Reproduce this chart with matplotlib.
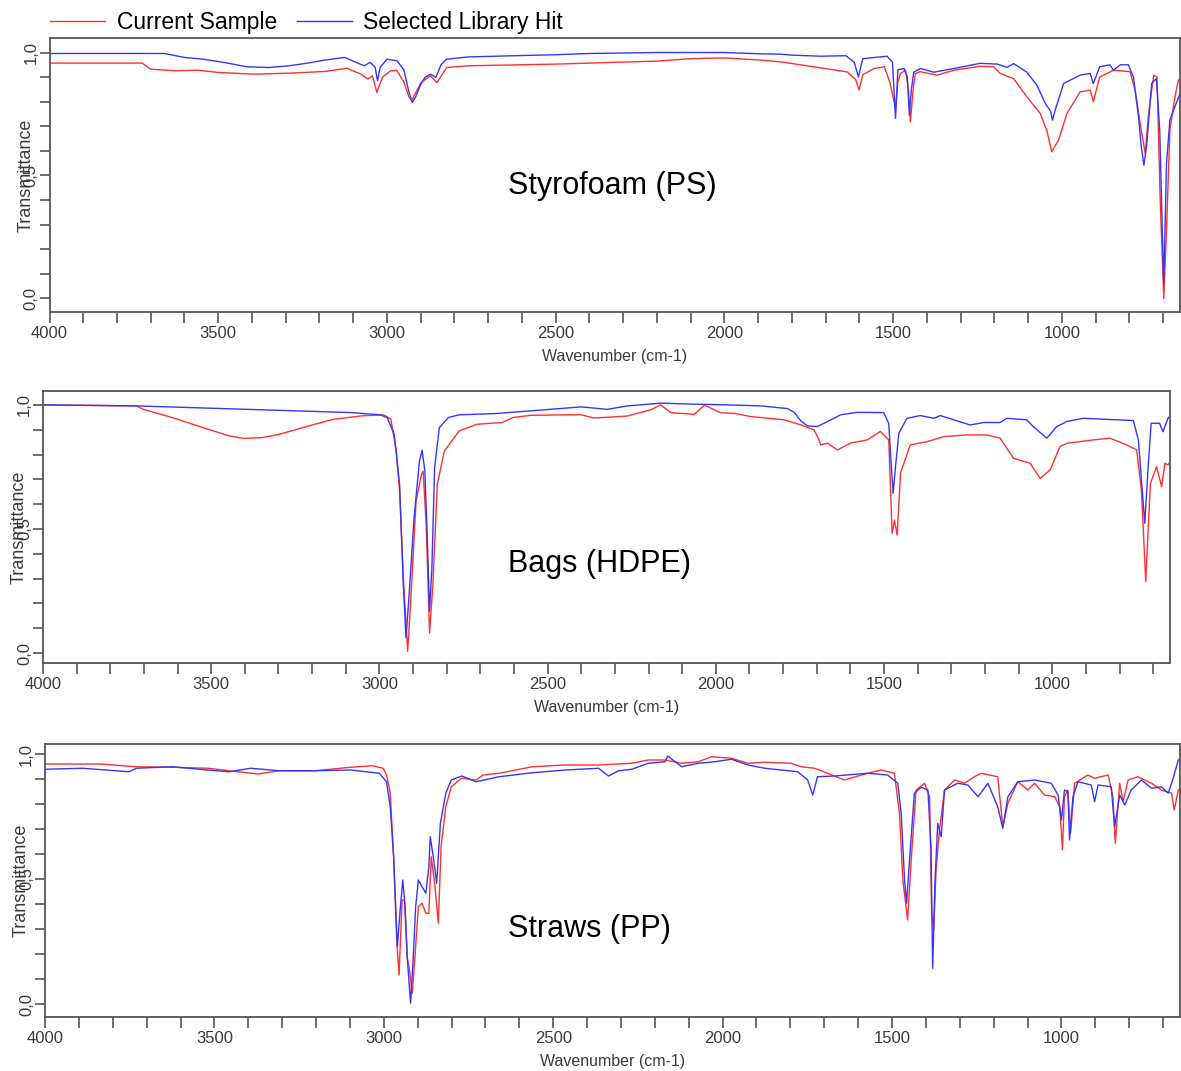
import numpy as np
import matplotlib
matplotlib.use("Agg")
import matplotlib.pyplot as plt

plt.rcParams['font.family'] = ['Liberation Sans', 'DejaVu Sans']

# FTIR spectra: (wavenumber, transmittance)
# Styrofoam (PS)
ps_lib_x = [4000, 3660, 3600, 3545, 3480, 3415, 3350, 3290, 3235, 3185, 3125, 3090, 3067, 3050, 3035,
            3028, 3020, 3000, 2970, 2950, 2935, 2925, 2915, 2900, 2887, 2871, 2855, 2840, 2823, 2760,
            2650, 2500, 2400, 2200, 2000, 1900, 1833, 1794, 1715, 1640, 1615, 1603, 1590, 1518, 1502,
            1493, 1486, 1468, 1458, 1452, 1446, 1439, 1419, 1380, 1320, 1242, 1192, 1162, 1143, 1104,
            1074, 1049, 1033, 1028, 1020, 995, 946, 916, 907, 888, 858, 847, 827, 803, 788,
            773, 765, 757, 749, 734, 720, 710, 702, 698, 690, 680, 665, 650]
ps_lib_y = [0.996, 0.996, 0.98, 0.973, 0.959, 0.942, 0.939, 0.946, 0.957, 0.969, 0.98, 0.959, 0.946, 0.96, 0.94,
            0.885, 0.94, 0.973, 0.966, 0.93, 0.84, 0.797, 0.82, 0.87, 0.899, 0.912, 0.899, 0.95, 0.973, 0.982,
            0.986, 0.991, 0.996, 1.0, 1.0, 0.995, 0.993, 0.989, 0.985, 0.987, 0.96, 0.90, 0.975, 0.985, 0.96,
            0.732, 0.93, 0.935, 0.90, 0.745, 0.85, 0.92, 0.935, 0.92, 0.935, 0.956, 0.953, 0.94, 0.955, 0.92,
            0.867, 0.793, 0.76, 0.725, 0.765, 0.874, 0.908, 0.915, 0.874, 0.942, 0.95, 0.928, 0.95, 0.95, 0.90,
            0.74, 0.62, 0.542, 0.62, 0.874, 0.894, 0.685, 0.25, 0.061, 0.55, 0.725, 0.78, 0.833]
ps_smp_x = [4000, 3725, 3700, 3628, 3560, 3500, 3395, 3290, 3183, 3119, 3077, 3056, 3043, 3030, 3013,
            2990, 2971, 2950, 2935, 2927, 2899, 2871, 2852, 2823, 2760, 2650, 2495, 2400, 2200, 2100,
            2000, 1900, 1833, 1735, 1636, 1611, 1601, 1590, 1556, 1526, 1510, 1493, 1486, 1478, 1463,
            1455, 1449, 1440, 1434, 1419, 1370, 1320, 1242, 1202, 1183, 1143, 1104, 1064, 1044, 1030,
            1010, 985, 946, 916, 907, 888, 847, 798, 783, 768, 753, 743, 728, 718, 709,
            698, 690, 680, 665, 655, 650]
ps_smp_y = [0.957, 0.957, 0.932, 0.926, 0.928, 0.919, 0.912, 0.916, 0.923, 0.936, 0.912, 0.892, 0.905, 0.838, 0.90,
            0.925, 0.928, 0.88, 0.82, 0.804, 0.878, 0.905, 0.878, 0.939, 0.946, 0.949, 0.953, 0.957, 0.965, 0.975,
            0.978, 0.97, 0.962, 0.942, 0.921, 0.89, 0.847, 0.91, 0.935, 0.942, 0.88, 0.772, 0.88, 0.915, 0.928,
            0.85, 0.718, 0.86, 0.915, 0.922, 0.908, 0.928, 0.944, 0.942, 0.915, 0.894, 0.82, 0.752, 0.68, 0.596,
            0.644, 0.752, 0.84, 0.847, 0.80, 0.90, 0.928, 0.922, 0.847, 0.711, 0.589, 0.752, 0.908, 0.90, 0.413,
            0.0, 0.277, 0.684, 0.82, 0.888, 0.89]

# Bags (HDPE)
pe_lib_x = [4000, 3723, 3510, 3296, 3083, 2998, 2977, 2956, 2940, 2929, 2921, 2913, 2897, 2881, 2873,
            2865, 2858, 2851, 2844, 2836, 2822, 2795, 2763, 2657, 2550, 2400, 2323, 2263, 2164, 2064,
            1965, 1866, 1787, 1767, 1747, 1727, 1698, 1668, 1629, 1580, 1501, 1486, 1479, 1473, 1466,
            1456, 1432, 1392, 1352, 1333, 1293, 1244, 1204, 1155, 1135, 1076, 1056, 1016, 987, 957,
            908, 809, 759, 744, 735, 725, 715, 706, 681, 671, 656, 650]
pe_lib_y = [1.0, 0.996, 0.987, 0.978, 0.969, 0.960, 0.949, 0.882, 0.680, 0.276, 0.061, 0.209, 0.545, 0.774, 0.817,
            0.734, 0.478, 0.168, 0.343, 0.747, 0.908, 0.949, 0.960, 0.965, 0.976, 0.992, 0.982, 0.996, 1.007, 1.003,
            1.0, 0.996, 0.985, 0.97, 0.935, 0.915, 0.913, 0.933, 0.96, 0.970, 0.969, 0.925, 0.765, 0.644, 0.75,
            0.886, 0.946, 0.957, 0.946, 0.957, 0.94, 0.919, 0.929, 0.929, 0.946, 0.94, 0.912, 0.866, 0.912, 0.933,
            0.946, 0.94, 0.937, 0.859, 0.70, 0.523, 0.75, 0.926, 0.926, 0.892, 0.946, 0.955]
pe_smp_x = [4000, 3723, 3701, 3616, 3510, 3446, 3403, 3350, 3296, 3211, 3137, 3051, 2987, 2966, 2950,
            2940, 2929, 2916, 2907, 2891, 2875, 2870, 2861, 2851, 2841, 2828, 2807, 2763, 2710, 2635,
            2603, 2550, 2444, 2400, 2362, 2263, 2194, 2164, 2134, 2064, 2034, 1985, 1946, 1896, 1866,
            1797, 1748, 1708, 1697, 1688, 1668, 1639, 1600, 1550, 1511, 1486, 1476, 1469, 1461, 1451,
            1422, 1372, 1323, 1254, 1194, 1155, 1115, 1066, 1036, 1006, 977, 957, 878, 829, 779,
            749, 735, 722, 715, 708, 690, 675, 665, 656, 650]
pe_smp_y = [1.0, 0.996, 0.982, 0.949, 0.902, 0.875, 0.865, 0.868, 0.882, 0.915, 0.942, 0.956, 0.960, 0.942, 0.814,
            0.653, 0.303, 0.007, 0.209, 0.612, 0.72, 0.733, 0.518, 0.081, 0.276, 0.680, 0.814, 0.895, 0.922, 0.929,
            0.949, 0.958, 0.960, 0.96, 0.947, 0.955, 0.98, 1.0, 0.969, 0.962, 0.999, 0.968, 0.966, 0.953, 0.949,
            0.94, 0.92, 0.899, 0.87, 0.839, 0.846, 0.818, 0.846, 0.859, 0.893, 0.859, 0.4825, 0.536, 0.475, 0.725,
            0.839, 0.852, 0.872, 0.879, 0.879, 0.866, 0.785, 0.765, 0.704, 0.738, 0.832, 0.845, 0.859, 0.866, 0.839,
            0.819, 0.657, 0.288, 0.497, 0.684, 0.751, 0.671, 0.765, 0.758, 0.77]

# Straws (PP)
pp_lib_x = [4000, 3889, 3752, 3730, 3625, 3520, 3456, 3393, 3308, 3203, 3097, 3013, 2992, 2981, 2971,
            2960, 2951, 2944, 2937, 2931, 2921, 2913, 2906, 2898, 2887, 2876, 2867, 2863, 2854, 2844,
            2833, 2817, 2801, 2770, 2728, 2660, 2562, 2464, 2366, 2337, 2307, 2268, 2219, 2170, 2162,
            2121, 2072, 2023, 1974, 1925, 1876, 1778, 1749, 1734, 1720, 1670, 1572, 1513, 1483, 1473,
            1463, 1457, 1449, 1434, 1414, 1394, 1385, 1380, 1373, 1365, 1355, 1345, 1306, 1276, 1246,
            1217, 1188, 1173, 1158, 1129, 1079, 1030, 1010, 1000, 991, 981, 976, 966, 951, 912,
            902, 892, 853, 843, 828, 813, 794, 764, 734, 705, 685, 670, 655, 650]
pp_lib_y = [0.939, 0.943, 0.929, 0.943, 0.949, 0.936, 0.929, 0.943, 0.933, 0.933, 0.936, 0.923, 0.889, 0.789, 0.589,
            0.229, 0.389, 0.496, 0.389, 0.189, 0.003, 0.189, 0.389, 0.496, 0.469, 0.443, 0.549, 0.669, 0.589, 0.483,
            0.723, 0.843, 0.896, 0.912, 0.889, 0.909, 0.925, 0.936, 0.943, 0.912, 0.933, 0.939, 0.963, 0.969, 0.992,
            0.949, 0.963, 0.969, 0.979, 0.956, 0.943, 0.929, 0.896, 0.836, 0.909, 0.912, 0.923, 0.916, 0.883, 0.763,
            0.496, 0.403, 0.563, 0.843, 0.867, 0.856, 0.629, 0.143, 0.496, 0.723, 0.669, 0.856, 0.883, 0.876, 0.829,
            0.883, 0.789, 0.703, 0.829, 0.889, 0.896, 0.883, 0.836, 0.736, 0.856, 0.849, 0.656, 0.829, 0.889, 0.876,
            0.809, 0.876, 0.869, 0.709, 0.836, 0.796, 0.856, 0.896, 0.863, 0.869, 0.843, 0.903, 0.976, 0.98]
pp_smp_x = [4000, 3836, 3731, 3625, 3520, 3372, 3308, 3203, 3097, 3034, 3002, 2992, 2981, 2971, 2962,
            2955, 2946, 2939, 2931, 2923, 2916, 2908, 2898, 2887, 2876, 2867, 2860, 2850, 2839, 2831,
            2817, 2801, 2770, 2728, 2707, 2660, 2562, 2464, 2366, 2268, 2219, 2170, 2121, 2072, 2033,
            1974, 1925, 1876, 1798, 1769, 1729, 1690, 1641, 1572, 1533, 1493, 1478, 1468, 1454, 1444,
            1429, 1404, 1389, 1383, 1377, 1370, 1360, 1345, 1315, 1286, 1257, 1237, 1188, 1173, 1158,
            1129, 1099, 1079, 1050, 1020, 1005, 997, 991, 981, 973, 961, 922, 902, 862, 848,
            841, 828, 818, 803, 774, 734, 705, 675, 667, 655, 650]
pp_smp_y = [0.96, 0.96, 0.949, 0.947, 0.943, 0.92, 0.933, 0.933, 0.947, 0.953, 0.943, 0.916, 0.843, 0.589, 0.256,
            0.116, 0.416, 0.416, 0.189, 0.123, 0.043, 0.189, 0.389, 0.403, 0.363, 0.363, 0.589, 0.483, 0.323, 0.629,
            0.789, 0.869, 0.903, 0.896, 0.916, 0.923, 0.949, 0.956, 0.956, 0.963, 0.976, 0.976, 0.963, 0.969, 0.989,
            0.983, 0.963, 0.967, 0.963, 0.949, 0.943, 0.923, 0.896, 0.923, 0.936, 0.923, 0.763, 0.496, 0.336, 0.563,
            0.856, 0.883, 0.829, 0.363, 0.296, 0.536, 0.696, 0.856, 0.896, 0.883, 0.909, 0.923, 0.909, 0.709, 0.803,
            0.889, 0.856, 0.883, 0.836, 0.829, 0.789, 0.616, 0.829, 0.856, 0.683, 0.883, 0.916, 0.903, 0.916, 0.829,
            0.643, 0.883, 0.809, 0.896, 0.909, 0.883, 0.856, 0.843, 0.776, 0.856, 0.86]

panels = [
    ("Styrofoam (PS)", ps_smp_x, ps_smp_y, ps_lib_x, ps_lib_y),
    ("Bags (HDPE)", pe_smp_x, pe_smp_y, pe_lib_x, pe_lib_y),
    ("Straws (PP)", pp_smp_x, pp_smp_y, pp_lib_x, pp_lib_y),
]
# axes boxes in figure pixels (left, top, right, bottom), y limits, label centre (px from top)
boxes = [(49.5, 38, 1180, 312), (43, 391, 1170, 663), (45, 744, 1180, 1017)]
ylims = [(-0.055, 1.059), (-0.040, 1.056), (-0.052, 1.040)]
name_y = [186, 564, 929]

W, H = 1181, 1071
fig = plt.figure(figsize=(W / 100, H / 100), dpi=100)

red = '#ff3030'
blue = '#3535ff'
txt_col = '#3a3a3a'

xt = list(range(700, 4001, 100))
xl = [str(v) if v % 500 == 0 else '' for v in xt]
yt = [round(v, 1) for v in np.arange(0, 1.01, 0.1)]
yl = {0.0: '0,0', 0.5: '0,5', 1.0: '1,0'}

for (name, sx, sy, lx, ly), (l, t, r, b), yl_lim, ny in zip(panels, boxes, ylims, name_y):
    ax = fig.add_axes([l / W, 1 - b / H, (r - l) / W, (b - t) / H])
    ax.plot(sx, sy, color=red, lw=1.0, label='Current Sample')
    ax.plot(lx, ly, color=blue, lw=1.0, label='Selected Library Hit')
    ax.set_xlim(4000, 650)
    ax.set_ylim(*yl_lim)
    ax.set_xticks(xt)
    ax.set_xticklabels(xl, fontsize=12, color=txt_col)
    ax.set_yticks(yt)
    ax.set_yticklabels([yl.get(v, '') for v in yt], fontsize=12, color=txt_col,
                       rotation=90, va='center')
    ax.tick_params(axis='x', length=8, width=1.2, color='#555555', pad=2)
    ax.tick_params(axis='y', length=7, width=1.2, color='#555555', pad=1)
    for s in ax.spines.values():
        s.set_color('#555555')
        s.set_linewidth(1.3)
    ax.set_xlabel('Wavenumber (cm-1)', fontsize=11.5, color=txt_col, labelpad=6)
    ax.set_ylabel('Transmittance', fontsize=13, color=txt_col, labelpad=-8)
    fig.text(508 / W, 1 - ny / H, name, fontsize=22, va='center', ha='left')

handles, labels = fig.axes[0].get_legend_handles_labels()
fig.legend(handles, labels, loc='upper left', bbox_to_anchor=(0.033, 1.0), ncol=2, frameon=False,
           fontsize=16.5, handlelength=2.4, handletextpad=0.5, columnspacing=0.85, borderaxespad=0.1)

fig.savefig('out.png', dpi=100)
